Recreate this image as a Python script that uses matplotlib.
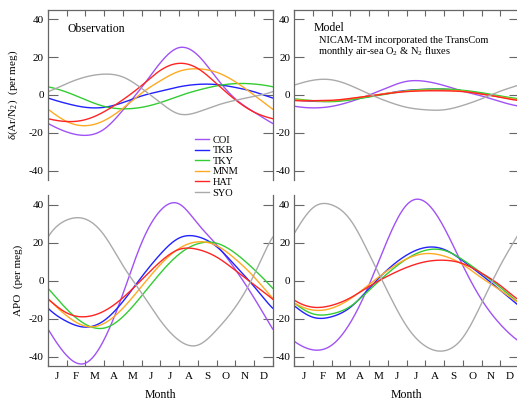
import numpy as np
import matplotlib
matplotlib.use("Agg")
import matplotlib.pyplot as plt
from matplotlib.lines import Line2D

plt.rcParams['font.family'] = ['Liberation Serif', 'DejaVu Serif']
plt.rcParams['mathtext.fontset'] = 'custom'
plt.rcParams['mathtext.rm'] = 'Liberation Serif'
plt.rcParams['mathtext.it'] = 'Liberation Serif:italic'

months = ['J', 'F', 'M', 'A', 'M', 'J', 'J', 'A', 'S', 'O', 'N', 'D']
stations = ['COI', 'TKB', 'TKY', 'MNM', 'HAT', 'SYO']
colors = ['#a052f5', '#2222ff', '#33cc33', '#ffaa22', '#ff2424', '#aaaaaa']

# values at month boundaries (x = 0 .. 12, i.e. Jan 1 ... Dec 31)
obs_arn2 = {
    'COI': [-15, -19.5, -21.3, -18, -8, 4, 17, 25, 21, 9, -2, -9, -15],
    'TKB': [-2, -4.5, -6.5, -6.5, -4, -0.5, 2, 4.3, 5.6, 5.5, 4, 1.7, -1.2],
    'TKY': [4.2, 1.5, -2.5, -6, -7.3, -6.5, -4, -0.5, 2.5, 4.8, 6, 5.8, 4.5],
    'MNM': [-8, -14, -16.2, -13.5, -7, 1, 7.5, 12.5, 13.8, 12, 7, 0, -7],
    'HAT': [-12.5, -14, -13, -8.8, -2.5, 5, 13, 16.7, 14, 6, -2.5, -9, -12.5],
    'SYO': [2, 6, 9.5, 11, 9.5, 3.5, -4, -10, -9, -5.5, -2.8, -0.8, 1.5],
}
mod_arn2 = {
    'COI': [-6, -6.8, -6, -3.5, 0, 4, 7.2, 7.2, 5, 2, -0.5, -3.5, -5.8],
    'TKB': [-2.5, -3.3, -3.3, -2.3, -0.8, 1, 2.4, 3, 3, 2.2, 0.8, -1, -2.5],
    'TKY': [-2, -3, -3.5, -2.6, -1, 0.7, 2.2, 3, 3.2, 2.5, 1.2, -0.5, -2],
    'MNM': [-2.5, -3, -3, -2, -0.5, 1, 2, 2.5, 2.5, 2, 0.5, -1, -2.5],
    'HAT': [-3, -3, -2.8, -1.8, -0.5, 0.8, 1.8, 2.2, 2.2, 1.8, 0.5, -1.2, -2.8],
    'SYO': [5.5, 7.8, 8, 5, 0.5, -3.5, -6.5, -7.8, -7.8, -5.5, -2, 2, 5],
}
obs_apo = {
    'COI': [-26, -39.5, -43.5, -31, -7, 20, 37, 40.5, 30, 19, 6, -9, -25],
    'TKB': [-15, -21.5, -24.5, -21, -11, 2, 14, 22.5, 23.2, 18, 8, -3, -14],
    'TKY': [-4.5, -15, -23, -25, -19, -8, 4, 14, 19.5, 19.8, 14.5, 6, -3.5],
    'MNM': [-10, -18.5, -24, -22.5, -14.5, -3, 8.5, 17, 20.5, 18.5, 11.5, 2, -8.5],
    'HAT': [-10, -17, -19, -16, -9, 0.5, 10, 16.5, 16.5, 12.5, 5.5, -2, -9.5],
    'SYO': [23, 32, 32.5, 24, 8, -6.5, -21, -31.5, -34, -26, -14, 3, 23],
}
mod_apo = {
    'COI': [-32, -36.5, -34, -22, -2, 22, 40, 41.5, 28, 8, -10, -23, -32],
    'TKB': [-13.5, -19.3, -19, -14, -4, 6, 13.5, 17.5, 16.5, 10.5, 3, -5, -13],
    'TKY': [-12, -17.5, -17.5, -13.5, -5, 4, 11.5, 16, 16, 11, 4, -3.5, -11.5],
    'MNM': [-12.5, -15.5, -14.5, -9.5, -2, 5.5, 11.5, 14.3, 13, 8.5, 1.5, -5, -11],
    'HAT': [-11, -14, -13, -9, -3, 2.5, 7, 10, 10.8, 9, 4, -2.5, -9.5],
    'SYO': [25, 38.5, 40, 32, 14, -6, -24, -34.5, -37, -30, -12, 8, 25],
}


def smooth(vals, n=30):
    """Periodic cubic spline through the monthly values (drawing only)."""
    v = np.asarray(vals, float).copy()
    y = v[:12].copy()
    y[0] = 0.5 * (v[0] + v[12])
    m = 12
    A = np.zeros((m, m))
    b = np.zeros(m)
    for i in range(m):
        A[i, (i - 1) % m] = 1
        A[i, i] = 4
        A[i, (i + 1) % m] = 1
        b[i] = 6 * (y[(i + 1) % m] - 2 * y[i] + y[(i - 1) % m])
    M = np.linalg.solve(A, b)
    t = np.linspace(0, 1, n, endpoint=False)
    xs, ys = [], []
    for i in range(m):
        j = (i + 1) % m
        s = (M[i] * (1 - t) ** 3 / 6 + M[j] * t ** 3 / 6
             + (y[i] - M[i] / 6) * (1 - t) + (y[j] - M[j] / 6) * t)
        xs.append(i + t)
        ys.append(s)
    xs.append([12.0])
    ys.append([y[0]])
    return np.concatenate(xs), np.concatenate(ys)


W, H = 517, 403
fig = plt.figure(figsize=(W / 100, H / 100), dpi=100)

def fx(px):
    return px / W

def fy(py):
    return (H - py) / H

lx0, lx1 = 48.0, 272.7
rx0, rx1 = 294.3, 519.0
ty0, ty1 = 9.7, 180.3
by0, by1 = 195.4, 366.0

axes = {}
for key, (x0, x1, y0, y1) in {
        'tl': (lx0, lx1, ty0, ty1), 'tr': (rx0, rx1, ty0, ty1),
        'bl': (lx0, lx1, by0, by1), 'br': (rx0, rx1, by0, by1)}.items():
    axes[key] = fig.add_axes([fx(x0), fy(y1), fx(x1) - fx(x0), fy(y0) - fy(y1)])

spine_c = '#666666'
for key, ax in axes.items():
    ax.set_xlim(0, 12)
    ax.set_ylim(-45, 45)
    ax.set_yticks([-40, -20, 0, 20, 40])
    ax.set_yticklabels(['-40', '-20', '0', '20', '40'])
    ax.tick_params(axis='y', which='both', direction='in', left=True, right=True,
                   length=7, width=0.8, color=spine_c, labelsize=8, pad=3)
    for s in ax.spines.values():
        s.set_color(spine_c)
        s.set_linewidth(0.9)
    ax.set_xticks(range(0, 13))
    ax.set_xticks(np.arange(0.5, 12, 1), minor=True)
    if key in ('tl', 'tr'):
        ax.spines['bottom'].set_visible(False)
        ax.tick_params(axis='x', which='major', direction='in', top=True, bottom=False,
                       length=4.5, width=0.8, color=spine_c, labelbottom=False, labeltop=False)
        ax.tick_params(axis='x', which='minor', length=0, bottom=False, top=False,
                       labelbottom=False)
    else:
        ax.spines['top'].set_visible(False)
        ax.tick_params(axis='x', which='major', direction='in', top=False, bottom=True,
                       length=4.3, width=0.8, color=spine_c, labelbottom=False)
        ax.tick_params(axis='x', which='minor', length=0, labelsize=8, pad=4)
        ax.set_xticklabels(months, minor=True)
        ax.set_xlabel('Month', fontsize=8.5, labelpad=6)

for key, data in (('tl', obs_arn2), ('tr', mod_arn2), ('bl', obs_apo), ('br', mod_apo)):
    ax = axes[key]
    for st, c in zip(stations, colors):
        xs, ys = smooth(data[st])
        ax.plot(xs, ys, color=c, lw=1.0)

axes['tl'].set_ylabel(r'$\mathrm{\delta(Ar/N_2)}$  (per meg)', fontsize=8)
axes['tl'].yaxis.set_label_coords(-0.125, 0.5)
axes['bl'].set_ylabel('APO  (per meg)', fontsize=8)
axes['bl'].yaxis.set_label_coords(-0.11, 0.5)

axes['tl'].text(0.085, 0.887, 'Observation', transform=axes['tl'].transAxes,
                fontsize=8.5, va='center', ha='left')
axes['tr'].text(0.085, 0.893, 'Model', transform=axes['tr'].transAxes,
                fontsize=8.5, va='center', ha='left')
axes['tr'].text(0.111, 0.822, 'NICAM-TM incorporated the TransCom',
                transform=axes['tr'].transAxes, fontsize=7.5, va='center', ha='left')
axes['tr'].text(0.107, 0.758, r'monthly air-sea O$_2$ & N$_2$ fluxes',
                transform=axes['tr'].transAxes, fontsize=7.5, va='center', ha='left')

handles = [Line2D([], [], color=c, lw=1.0) for c in colors]
fig.legend(handles, stations, loc='upper left',
           bbox_to_anchor=(fx(195.0), fy(135.5)), bbox_transform=fig.transFigure,
           frameon=False, fontsize=7.5, handlelength=1.3, handletextpad=0.4,
           labelspacing=0.12, borderpad=0, borderaxespad=0)

fig.savefig('out.png', dpi=100)
